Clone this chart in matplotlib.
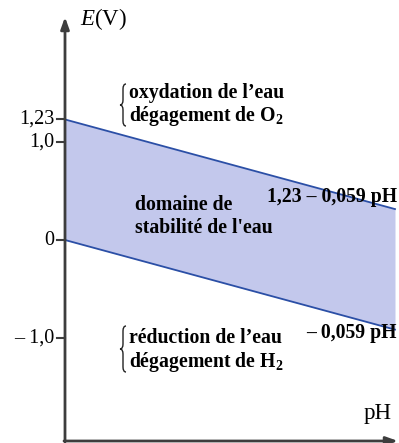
import matplotlib
matplotlib.use("Agg")
import matplotlib.pyplot as plt
from matplotlib.path import Path
from matplotlib.patches import PathPatch
import numpy as np

plt.rcParams['font.family'] = ['Liberation Serif', 'DejaVu Serif']
plt.rcParams['mathtext.fontset'] = 'custom'
plt.rcParams['mathtext.rm'] = 'Liberation Serif'
plt.rcParams['mathtext.it'] = 'Liberation Serif:italic'
plt.rcParams['mathtext.bf'] = 'Liberation Serif:bold'

# pH domain and the two water boundaries
ph = np.array([0.0, 15.5])
e_o2 = 1.23 - 0.059 * ph     # O2 / H2O
e_h2 = 0.0 - 0.059 * ph      # H2O / H2
tick_vals = [1.23, 1.0, 0.0, -1.0]
tick_labels = ["1,23", "1,0", "0", "– 1,0"]

W, H = 399, 443
fig = plt.figure(figsize=(W / 100, H / 100), dpi=100)
ax = fig.add_axes([0, 0, 1, 1])
ax.axis('off')

# pixel -> data scale
sx = 330 / 15.5
sy = 98.0
x0px, y0px = 65, 240
ax.set_xlim(-x0px / sx, (W - x0px) / sx)
ax.set_ylim(-(H - y0px) / sy, y0px / sy)

def px(x, y):
    return (x - x0px) / sx, (y0px - y) / sy

def brace(x, top, bot, w=6, r=5):
    # left curly brace drawn as a thin path
    mid = (top + bot) / 2
    xm = x + w / 2
    pts = [(x + w, top), (xm, top), (xm, top + r),
           (xm, mid - r), (xm, mid), (x, mid),
           (xm, mid), (xm, mid + r),
           (xm, bot - r), (xm, bot), (x + w, bot)]
    codes = [Path.MOVETO, Path.CURVE3, Path.CURVE3,
             Path.LINETO, Path.CURVE3, Path.CURVE3,
             Path.CURVE3, Path.CURVE3,
             Path.LINETO, Path.CURVE3, Path.CURVE3]
    verts = [px(a, b) for a, b in pts]
    ax.add_patch(PathPatch(Path(verts, codes), fill=False, lw=1.0,
                           edgecolor='#222222', zorder=3))

axcol = '#3d3d3d'
blue = '#2b4fa6'
fillc = '#c3c8ec'

ax.fill_between(ph, e_h2, e_o2, color=fillc, lw=0, zorder=1)
ax.plot(ph, e_o2, color=blue, lw=1.3, zorder=2)
ax.plot(ph, e_h2, color=blue, lw=1.3, zorder=2)

# axes with arrows
ax.annotate('', xy=px(65, 17), xytext=px(65, 442),
            arrowprops=dict(arrowstyle='-|>,head_length=0.7,head_width=0.25',
                            color=axcol, lw=2, shrinkA=0, shrinkB=0), zorder=3)
ax.annotate('', xy=px(398, 441), xytext=px(64, 441),
            arrowprops=dict(arrowstyle='-|>,head_length=0.7,head_width=0.25',
                            color=axcol, lw=2, shrinkA=0, shrinkB=0), zorder=3)

for v, lab in zip(tick_vals, tick_labels):
    ax.plot([-8 / sx, 0], [v, v], color=axcol, lw=1.5, zorder=3)
    ax.text(-11 / sx, v, lab, ha='right', va='center', fontsize=14.5)

ax.text(*px(80, 19), r"$E$(V)", ha='left', va='center', fontsize=16.5)
ax.text(*px(392, 413), "pH", ha='right', va='center', fontsize=16.5)

bold = dict(fontweight='bold', fontsize=14.2, va='center')

brace(120, 84, 126)
ax.text(*px(129, 93), "oxydation de l’eau", ha='left', **bold)
ax.text(*px(129, 116), r"dégagement de O$_\mathbf{2}$", ha='left', **bold)

ax.text(*px(135, 205), "domaine de", ha='left', **bold)
ax.text(*px(135, 228), "stabilité de l'eau", ha='left', **bold)

ax.text(*px(397, 197), "1,23 – 0,059 pH", ha='right', **bold)
ax.text(*px(397, 333), "– 0,059 pH", ha='right', **bold)

brace(120, 326, 372)
ax.text(*px(129, 338), "réduction de l’eau", ha='left', **bold)
ax.text(*px(129, 362), r"dégagement de H$_\mathbf{2}$", ha='left', **bold)

fig.savefig("out.png", dpi=100)
